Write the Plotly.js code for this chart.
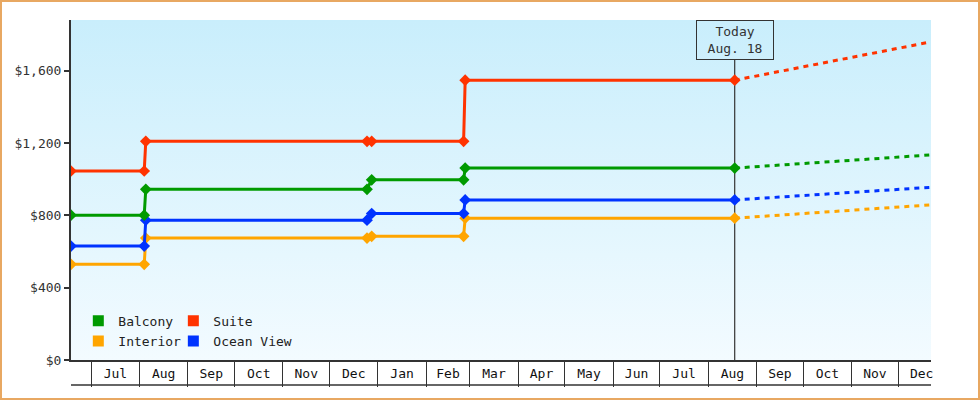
<!DOCTYPE html>
<html>
<head>
<meta charset="utf-8">
<script src="https://cdn.plot.ly/plotly-3.0.1.min.js"></script>
<style>
  html, body { margin: 0; padding: 0; background: #fff; }
  #wrap { position: relative; width: 980px; height: 400px; }
  #chart { width: 980px; height: 400px; }
  #frame { position: absolute; left: 0; top: 0; width: 976px; height: 396px; border: 2px solid #e8a862; pointer-events: none; }
</style>
</head>
<body>
<div id="wrap"><div id="chart"></div><div id="frame"></div></div>
<script>
// ---- data ----
const histDates = ['2016-06-18','2016-08-04','2016-08-05','2016-12-25','2016-12-28','2017-02-25','2017-02-26','2017-08-18'];
const balcony   = [801, 801, 944, 944, 996, 996, 1061, 1061];
const suite     = [1045, 1045, 1209, 1209, 1209, 1209, 1547, 1547];
const oceanView = [630, 630, 773, 773, 810, 810, 885, 885];
const interior  = [529, 529, 674, 674, 684, 684, 784, 784];

const forecastDates     = ['2017-08-18', '2017-12-22'];
const balconyForecast   = [1061, 1134];
const suiteForecast     = [1547, 1759];
const oceanViewForecast = [885, 955];
const interiorForecast  = [784, 858];

const todayDate  = '2017-08-18';
const todayLabel = 'Today<br>Aug. 18';
const xRange = ['2016-06-18', '2017-12-22'];
const yTicks = [0, 400, 800, 1200, 1600];
const yTickLabels = yTicks.map(v => '$' + v.toLocaleString('en-US'));

const seriesNames  = ['Balcony', 'Suite', 'Interior', 'Ocean View'];
const seriesColors = ['#009a00', '#ff3300', '#ffa500', '#0033ff'];
const seriesHist   = [balcony, suite, interior, oceanView];
const seriesFc     = [balconyForecast, suiteForecast, interiorForecast, oceanViewForecast];
const seriesLegend = ['legend', 'legend2', 'legend3', 'legend4'];

// ---- traces ----
const FONT = '"DejaVu Sans Mono", "Liberation Mono", monospace';
const traces = [];
// draw order: interior, ocean view, balcony, suite
[2, 3, 0, 1].forEach(i => {
  traces.push({
    x: histDates, y: seriesHist[i], type: 'scatter', mode: 'lines+markers',
    line: { color: seriesColors[i], width: 3 },
    marker: { color: seriesColors[i], symbol: 'diamond', size: 9 },
    showlegend: false, hoverinfo: 'x+y'
  });
  traces.push({
    x: forecastDates, y: seriesFc[i], type: 'scatter', mode: 'lines',
    line: { color: seriesColors[i], width: 3, dash: '5px,5px' },
    showlegend: false, hoverinfo: 'x+y'
  });
});
// legend entries (square swatches)
[0, 1, 2, 3].forEach(i => {
  traces.push({
    x: [null], y: [null], type: 'scatter', mode: 'markers', name: seriesNames[i],
    marker: { color: seriesColors[i], symbol: 'square', size: 11 },
    legend: seriesLegend[i], showlegend: true
  });
});

const gradSvg = '<svg xmlns="http://www.w3.org/2000/svg" width="10" height="100" preserveAspectRatio="none">' +
  '<defs><linearGradient id="g" x1="0" y1="0" x2="0" y2="1">' +
  '<stop offset="0" stop-color="#c9eefc"/><stop offset="1" stop-color="#f3fbff"/>' +
  '</linearGradient></defs><rect width="10" height="100" fill="url(#g)"/></svg>';

const legendCommon = {
  orientation: 'h', xanchor: 'left', yanchor: 'middle', bgcolor: 'rgba(0,0,0,0)',
  font: { family: FONT, size: 13, color: '#222' },
  itemclick: false, itemdoubleclick: false
};
const colA = 0.0085, colB = 0.119, rowA = 0.115, rowB = 0.056;

const layout = {
  width: 980, height: 400,
  margin: { l: 71, r: 49, t: 20, b: 40, pad: 0 },
  paper_bgcolor: '#ffffff', plot_bgcolor: 'rgba(0,0,0,0)',
  font: { family: FONT, size: 13, color: '#333' },
  images: [{
    source: 'data:image/svg+xml;charset=utf-8,' + encodeURIComponent(gradSvg),
    xref: 'paper', yref: 'paper', x: 0, y: 1, sizex: 1, sizey: 1,
    xanchor: 'left', yanchor: 'top', sizing: 'stretch', layer: 'below'
  }],
  xaxis: {
    type: 'date', range: xRange, dtick: 'M1', tick0: '2016-07-01', tickformat: '%b',
    ticklabelmode: 'period', ticks: 'outside', ticklen: 25, tickwidth: 1, tickcolor: '#333',
    ticklabelstandoff: -25,
    showline: true, linecolor: '#333', linewidth: 2, showgrid: false, zeroline: false,
    tickfont: { family: FONT, size: 13, color: '#111' }, fixedrange: true
  },
  yaxis: {
    range: [0, 1880], tickmode: 'array', tickvals: yTicks, ticktext: yTickLabels,
    ticks: 'outside', ticklen: 5, tickwidth: 2, tickcolor: '#333',
    showline: true, linecolor: '#333', linewidth: 2, showgrid: false, zeroline: false,
    tickfont: { family: FONT, size: 13, color: '#333' }, fixedrange: true
  },
  shapes: [
    { type: 'line', xref: 'x', yref: 'paper', x0: todayDate, x1: todayDate, y0: 0, y1: 0.882,
      line: { color: '#333', width: 1.2 }, layer: 'below' },
    { type: 'line', xref: 'paper', yref: 'paper', x0: 0, x1: 1, y0: -0.0735, y1: -0.0735,
      line: { color: '#333', width: 1.5 } }
  ],
  annotations: [{
    x: todayDate, xref: 'x', y: 1, yref: 'paper', xanchor: 'center', yanchor: 'top',
    text: todayLabel, showarrow: false, width: 72, height: 34, borderpad: 2,
    bordercolor: '#333', borderwidth: 1, bgcolor: 'rgba(0,0,0,0)',
    font: { family: FONT, size: 13, color: '#333' }
  }],
  legend:  Object.assign({}, legendCommon, { x: colA, y: rowA }),
  legend2: Object.assign({}, legendCommon, { x: colB, y: rowA }),
  legend3: Object.assign({}, legendCommon, { x: colA, y: rowB }),
  legend4: Object.assign({}, legendCommon, { x: colB, y: rowB }),
  hovermode: 'closest'
};

Plotly.newPlot('chart', traces, layout, { displayModeBar: false, staticPlot: true });
</script>
</body>
</html>
